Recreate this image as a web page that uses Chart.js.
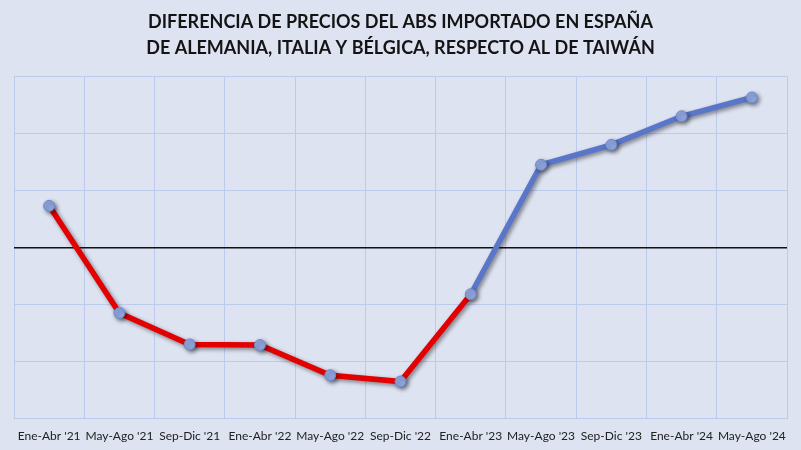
<!DOCTYPE html>
<html>
<head>
<meta charset="utf-8">
<script src="https://cdn.jsdelivr.net/npm/chart.js@4"></script>
<style>
  html, body { margin: 0; padding: 0; background: #dee3f2; }
  #wrap { width: 801px; height: 450px; position: relative; }
</style>
</head>
<body>
<div id="wrap"><canvas id="precios"></canvas></div>
<script>
const periods = ["Ene-Abr '21", "May-Ago '21", "Sep-Dic '21", "Ene-Abr '22", "May-Ago '22", "Sep-Dic '22",
  "Ene-Abr '23", "May-Ago '23", "Sep-Dic '23", "Ene-Abr '24", "May-Ago '24"];
// price gap vs Taiwan, one unit per gridline (axis has no labels)
const gap = [0.73, -1.15, -1.70, -1.71, -2.24, -2.35, -0.82, 1.45, 1.80, 2.30, 2.63];
const titleLines = ["DIFERENCIA DE PRECIOS DEL ABS IMPORTADO EN ESPAÑA",
  "DE ALEMANIA, ITALIA Y BÉLGICA, RESPECTO AL DE TAIWÁN"];

const RED = '#e30000';
const BLUE = '#5976c9';

const bgPlugin = {
  id: 'bg',
  beforeDraw(chart) {
    const c = chart.ctx;
    c.save();
    c.fillStyle = '#dee3f2';
    c.fillRect(0, 0, chart.width, chart.height);
    c.restore();
  }
};

const shadowPlugin = {
  id: 'shadow',
  beforeDatasetsDraw(chart) {
    const c = chart.ctx;
    c.save();
    c.shadowColor = 'rgba(0,0,0,0.45)';
    c.shadowBlur = 4;
    c.shadowOffsetX = 2;
    c.shadowOffsetY = 2;
  },
  afterDatasetsDraw(chart) {
    chart.ctx.restore();
  }
};

new Chart(document.getElementById('precios'), {
  type: 'line',
  data: {
    labels: periods,
    datasets: [{
      data: gap,
      borderWidth: 5.5,
      borderColor: BLUE,
      segment: {
        borderColor: (ctx) => ctx.p1.parsed.y < 0 ? RED : BLUE
      },
      pointRadius: 5.5,
      pointHoverRadius: 5.5,
      pointBackgroundColor: '#8fa5dd',
      pointBorderColor: '#6f89d0',
      pointBorderWidth: 1,
      tension: 0
    }]
  },
  options: {
    responsive: true,
    maintainAspectRatio: false,
    animation: false,
    layout: { padding: { left: 14, right: 14, top: 0, bottom: -3 } },
    plugins: {
      legend: { display: false },
      tooltip: { enabled: false },
      title: {
        display: true,
        text: titleLines,
        color: '#141414',
        font: { family: 'Lato', size: 18, weight: 'bold', lineHeight: 1.4 },
        padding: { top: 10, bottom: 16 }
      }
    },
    scales: {
      x: {
        offset: true,
        border: { display: false },
        grid: { offset: true, color: '#bccbec', drawTicks: false },
        ticks: {
          color: '#222',
          font: { family: 'Lato', size: 12 },
          padding: 10,
          maxRotation: 0,
          autoSkip: false
        }
      },
      y: {
        min: -3,
        max: 3,
        border: { display: false },
        grid: {
          drawTicks: false,
          color: (ctx) => ctx.tick.value === 0 ? '#111' : '#bccbec',
          lineWidth: (ctx) => ctx.tick.value === 0 ? 1.5 : 1
        },
        ticks: { display: false, stepSize: 1 }
      }
    }
  },
  plugins: [bgPlugin, shadowPlugin]
});
</script>
</body>
</html>
